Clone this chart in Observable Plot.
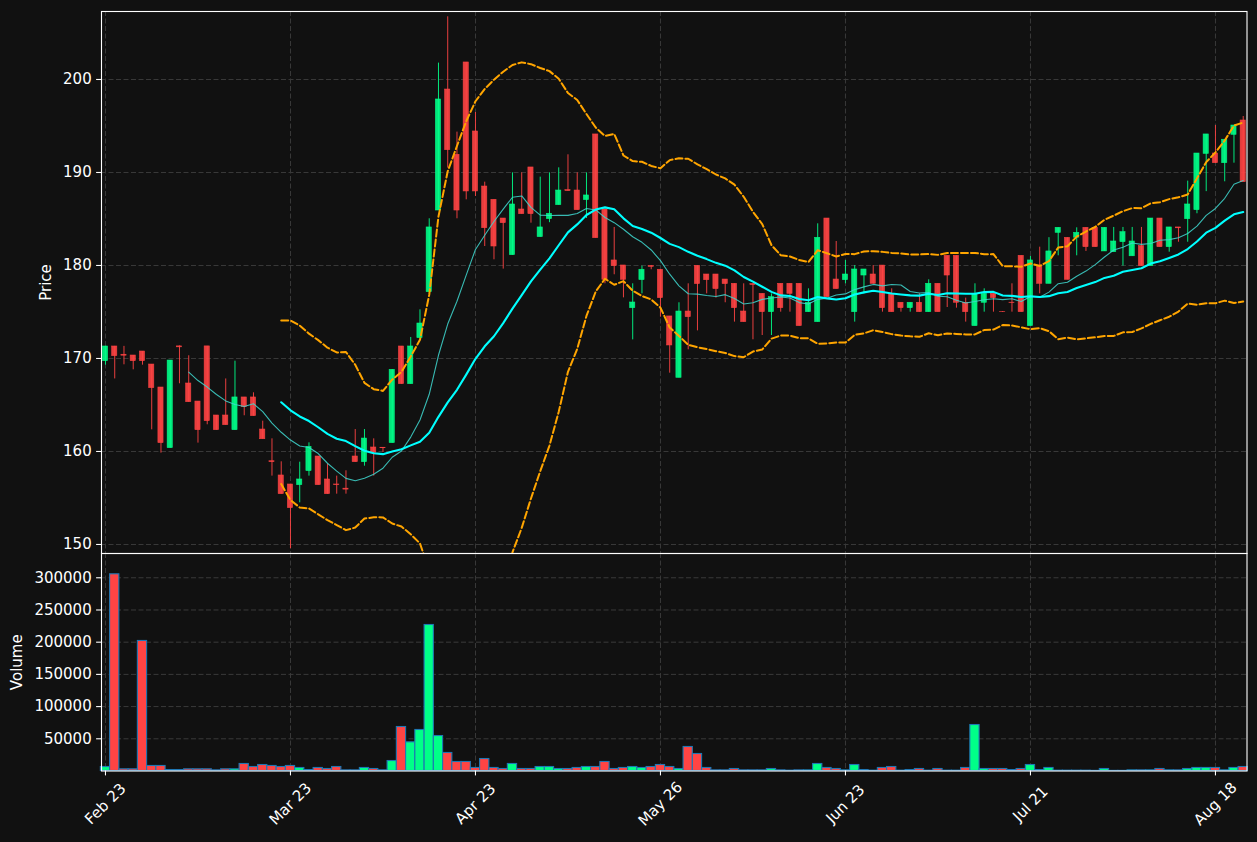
<!DOCTYPE html>
<html>
<head>
<meta charset="utf-8">
<script src="https://cdn.jsdelivr.net/npm/d3@7"></script>
<script src="https://cdn.jsdelivr.net/npm/@observablehq/plot@0.6"></script>
<style>
html,body{margin:0;padding:0;background:#111111;}
#chart{position:relative;width:1257px;height:842px;background:#111111;overflow:hidden;}
#price,#volume{position:absolute;left:0;}
#price{top:0;}
#volume{top:553px;}
svg{overflow:visible;}
</style>
</head>
<body>
<div id="chart"><div id="price"></div><div id="volume"></div></div>
<script>
// ---- data ----
const tickIndex = [0, 20, 40, 60, 80, 100, 120];
const tickLabels = ["Feb 23", "Mar 23", "Apr 23", "May 26", "Jun 23", "Jul 21", "Aug 18"];
const priceTicks = [150, 160, 170, 180, 190, 200];
const volumeTicks = [50000, 100000, 150000, 200000, 250000, 300000];

const open = [169.71,171.29,170.4,170.32,170.75,169.35,166.88,160.36,171.3,167.31,
165.37,171.3,163.87,163.87,162.29,165.81,165.81,162.36,158.95,157.42,
156.45,156.38,157.89,159.46,156.99,156.45,156.0,159.46,158.85,160.43,
160.4,160.9,171.29,167.24,172.19,177.13,185.91,198.92,191.9,201.83,
194.41,188.49,187.06,185.05,181.11,186.02,190.54,183.05,184.98,186.49,
188.1,188.06,187.03,194.09,186.02,180.54,180.0,175.41,178.43,179.93,
179.54,174.52,167.92,175.05,179.96,179.03,179.03,178.49,178.03,175.05,
178.0,176.95,174.98,178.03,178.03,178.03,174.98,173.91,185.05,178.49,
178.42,174.98,178.92,179.03,179.99,176.95,175.99,175.41,175.99,174.98,
178.03,181.04,181.04,175.99,173.48,175.99,176.95,175.0,176.0,181.04,
173.48,179.99,178.03,183.51,182.97,182.99,184.05,184.05,181.51,181.43,
182.51,180.99,182.08,179.93,185.05,181.97,184.09,184.98,185.95,192.0,
192.04,191.0,194.05,195.59];
const high = [171.3,171.3,171.3,170.32,170.75,169.35,166.88,169.78,171.35,170.29,
165.37,171.3,163.87,167.8,169.71,165.81,166.31,163.26,161.36,158.89,
156.45,158.85,160.93,159.46,158.67,157.35,157.92,162.36,162.36,161.36,
160.43,168.8,171.29,172.26,175.23,185.02,201.76,206.74,194.34,201.83,
196.45,188.96,187.06,185.05,189.96,189.96,190.54,189.5,189.96,190.5,
191.9,189.96,189.96,194.09,186.02,184.09,180.0,178.03,179.93,180.0,
179.54,174.52,175.99,178.03,179.96,179.03,179.03,178.49,178.03,178.03,
178.03,176.95,176.95,178.03,178.03,178.03,177.49,184.48,185.05,182.58,
180.54,179.99,179.57,179.99,179.99,177.49,175.99,175.99,176.95,178.46,
178.03,181.04,181.04,176.49,178.03,177.49,176.95,175.05,178.03,181.04,
180.97,181.97,182.99,184.05,182.97,184.05,184.05,184.05,184.05,184.09,
184.09,184.09,184.09,185.05,185.05,184.09,184.09,189.07,192.04,194.09,
195.05,193.52,195.05,196.02];
const low = [169.28,167.8,169.32,168.78,169.28,162.33,159.82,160.36,167.28,165.3,
160.9,162.87,162.29,162.83,162.29,163.84,163.8,161.32,157.35,155.41,
149.54,154.48,157.35,156.38,155.41,155.41,155.41,158.85,158.42,157.35,
159.9,160.9,167.24,167.24,172.19,177.13,185.91,190.47,185.02,187.06,
187.42,182.04,180.61,179.61,181.11,185.52,184.55,183.05,184.6,186.49,
188.0,185.95,185.05,182.94,178.03,179.0,176.52,172.0,176.95,179.54,
174.44,168.42,167.92,170.93,172.97,176.95,176.49,175.99,173.91,173.91,
172.01,172.47,172.47,174.98,174.98,173.48,174.98,173.91,176.59,177.46,
178.03,173.91,176.95,178.03,174.98,174.98,174.98,174.98,174.98,174.98,
174.98,175.48,175.41,173.91,173.48,174.98,174.98,174.95,174.98,174.98,
173.48,176.95,178.03,181.04,178.46,181.04,181.51,181.97,181.51,181.43,
179.93,180.99,179.93,179.93,181.97,181.43,182.5,182.5,185.56,187.94,
191.0,189.0,191.0,188.96];
const close = [171.29,170.25,170.3,169.71,169.71,166.81,160.9,169.78,171.2,165.3,
162.29,163.26,162.29,162.83,165.81,164.77,163.8,161.32,158.85,155.41,
153.91,156.99,160.5,156.38,155.41,156.38,155.9,158.85,161.39,159.86,
160.35,168.78,167.24,171.29,173.76,184.09,197.85,192.4,185.91,187.96,
187.96,184.01,182.04,184.55,186.56,185.52,185.52,184.09,185.56,188.06,
188.0,185.95,187.53,182.94,178.46,179.93,178.46,176.02,179.54,179.85,
176.49,171.4,175.05,174.44,178.0,178.42,177.46,178.0,175.41,173.91,
177.9,174.98,176.59,175.41,176.95,173.48,175.99,182.97,176.59,177.46,
179.03,179.57,179.57,178.03,175.41,174.98,175.41,175.99,174.98,178.03,
174.98,178.92,175.99,174.98,176.95,176.95,176.49,174.98,175.95,174.98,
180.54,178.03,181.51,184.05,178.46,183.51,181.97,181.97,184.05,182.58,
183.58,182.58,179.93,185.05,181.97,184.09,184.0,186.56,192.04,194.09,
191.0,193.52,195.05,188.96];
const volume = [6200,305400,2600,2600,201900,7800,7800,1500,1500,2600,
2600,2600,1000,2600,2600,10900,6200,9300,7800,6200,
7800,4700,1500,4700,3100,6200,1000,1000,4700,3100,
1000,15500,68300,44500,63700,226700,54300,28000,14000,14000,
4700,18600,4700,3100,10900,3100,3100,6200,6200,3100,
3100,4700,6200,6200,14000,3100,4700,6200,4700,6200,
9300,6200,3100,37300,26400,4700,1000,1000,3100,1000,
1000,1000,3100,1000,500,1000,1000,10900,4700,3100,
1000,9300,1500,500,4700,6200,500,1500,3100,500,
3100,500,500,4700,71400,3100,3100,3100,1500,3100,
9300,1500,4700,500,500,500,500,200,3100,200,
200,1000,1000,1000,3100,1000,1000,3100,4700,4700,
4700,1000,4700,6200];

// ---- styling ----
const UP = "#00ff88", DOWN = "#ff4444";
const GRID = "#3a3a3a";
const FONT = "DejaVu Sans, sans-serif";
const FS = 15;
const xDomain = [-0.43, 123.41];
const DASH = "7,3";

const candles = open.map((o, i) => ({
  i, open: o, high: high[i], low: low[i], close: close[i], volume: volume[i],
  color: close[i] >= o ? UP : DOWN
}));

// population standard deviation of a window
const popDev = v => d3.deviation(v) * Math.sqrt((v.length - 1) / v.length);

const baseStyle = {background: "transparent", color: "white", fontFamily: FONT, fontSize: FS + "px", overflow: "visible"};

const price = Plot.plot({
  width: 1257, height: 553,
  marginTop: 11, marginBottom: 0, marginLeft: 101, marginRight: 10.5,
  style: baseStyle,
  x: {type: "linear", domain: xDomain, axis: null},
  y: {domain: [149.03, 207.31], axis: null},
  color: {type: "identity"},
  marks: [
    Plot.gridY(priceTicks, {stroke: GRID, strokeOpacity: 1, strokeWidth: 1, strokeDasharray: "5,2.5"}),
    Plot.gridX(tickIndex, {stroke: GRID, strokeOpacity: 1, strokeWidth: 1, strokeDasharray: "5,2.5"}),
    Plot.ruleX(candles, {x: "i", y1: "low", y2: "high", stroke: "color", strokeWidth: 1, strokeOpacity: 0.9}),
    Plot.rect(candles, {
      x1: d => d.i - 0.28, x2: d => d.i + 0.28,
      y1: d => Math.min(d.open, d.close), y2: d => Math.max(d.open, d.close),
      fill: "color", stroke: "color", strokeWidth: 0.6, fillOpacity: 0.9, strokeOpacity: 0.9
    }),
    Plot.lineY(candles, Plot.windowY({k: 10, anchor: "end", strict: true, reduce: "mean"},
      {x: "i", y: "close", stroke: "#40d8d0", strokeWidth: 1.1, strokeOpacity: 0.85})),
    Plot.lineY(candles, Plot.windowY({k: 20, anchor: "end", strict: true, reduce: "mean"},
      {x: "i", y: "close", stroke: "#00ffff", strokeWidth: 2.1})),
    Plot.lineY(candles, Plot.windowY({k: 20, anchor: "end", strict: true, reduce: v => d3.mean(v) + 2 * popDev(v)},
      {x: "i", y: "close", stroke: "#ffa500", strokeWidth: 2, strokeDasharray: DASH, clip: true})),
    Plot.lineY(candles, Plot.windowY({k: 20, anchor: "end", strict: true, reduce: v => d3.mean(v) - 2 * popDev(v)},
      {x: "i", y: "close", stroke: "#ffa500", strokeWidth: 2, strokeDasharray: DASH, clip: true})),
    Plot.axisY(priceTicks, {anchor: "left", tickSize: 4.9, tickPadding: 4.9, stroke: "white", strokeWidth: 1.1, fill: "white", fontSize: FS, label: null}),
    Plot.frame({stroke: "white", strokeWidth: 1.1}),
    Plot.text(["Price"], {text: d => d, frameAnchor: "left", dx: -55, rotate: -90, fill: "white", fontSize: FS, textAnchor: "middle", lineAnchor: "middle"})
  ]
});

const vol = Plot.plot({
  width: 1257, height: 289,
  marginTop: 0, marginBottom: 71.5, marginLeft: 101, marginRight: 10.5,
  style: baseStyle,
  x: {type: "linear", domain: xDomain, axis: null},
  y: {domain: [0, 337700], axis: null},
  color: {type: "identity"},
  marks: [
    Plot.gridY(volumeTicks, {stroke: GRID, strokeOpacity: 1, strokeWidth: 1, strokeDasharray: "5,2.5"}),
    Plot.gridX(tickIndex, {stroke: GRID, strokeOpacity: 1, strokeWidth: 1, strokeDasharray: "5,2.5"}),
    Plot.rect(candles, {
      x1: d => d.i - 0.5, x2: d => d.i + 0.5, y1: 0, y2: "volume",
      fill: "color", stroke: "#1f77b4", strokeWidth: 1.1
    }),
    Plot.axisY(volumeTicks, {anchor: "left", tickSize: 4.9, tickPadding: 4.9, stroke: "white", strokeWidth: 1.1, fill: "white", fontSize: FS, label: null, tickFormat: d => String(d)}),
    Plot.axisX(tickIndex, {anchor: "bottom", tickSize: 4.9, stroke: "white", strokeWidth: 1.1, tickFormat: () => "", label: null}),
    Plot.text(tickIndex, {x: d => d, text: (d, k) => tickLabels[k], frameAnchor: "bottom", dy: 33, rotate: -45, fill: "white", fontSize: FS, textAnchor: "middle", lineAnchor: "middle"}),
    Plot.frame({stroke: "white", strokeWidth: 1.1}),
    Plot.text(["Volume"], {text: d => d, frameAnchor: "left", dx: -84, rotate: -90, fill: "white", fontSize: FS, textAnchor: "middle", lineAnchor: "middle"})
  ]
});

document.getElementById("price").appendChild(price);
document.getElementById("volume").appendChild(vol);
</script>
</body>
</html>
